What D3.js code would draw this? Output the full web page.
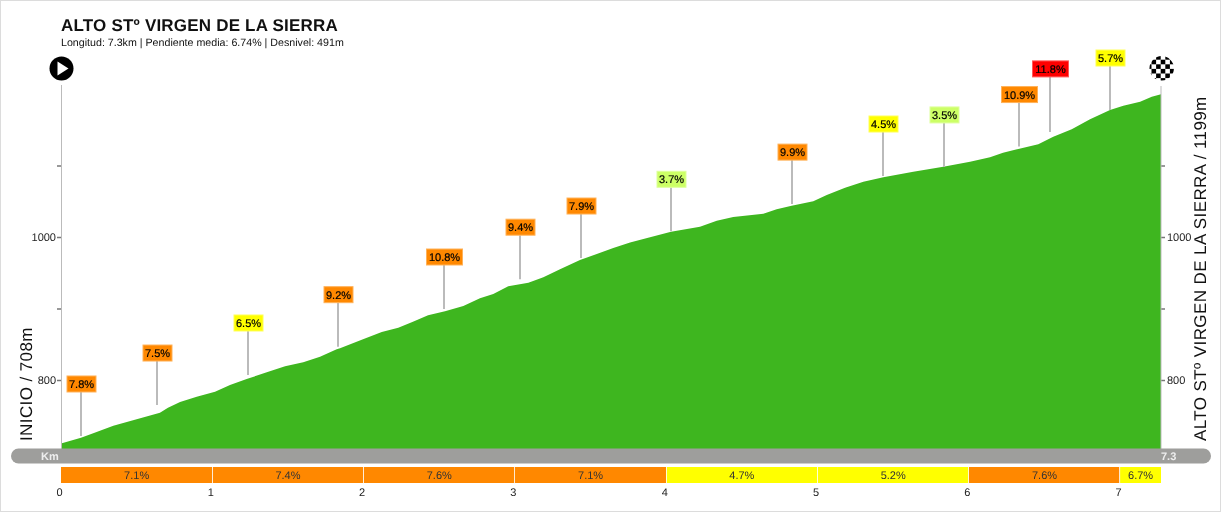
<!DOCTYPE html>
<html><head><meta charset="utf-8">
<script src="https://cdnjs.cloudflare.com/ajax/libs/d3/7.8.5/d3.min.js"></script>
<style>
html,body{margin:0;padding:0;background:#fff;overflow:hidden}
svg{display:block;font-family:"Liberation Sans",Arial,sans-serif;will-change:transform}
text{text-rendering:geometricPrecision}
</style></head><body><svg id="c" width="1222" height="512"></svg>
<script>
const title="ALTO STº VIRGEN DE LA SIERRA";
const subtitle="Longitud: 7.3km | Pendiente media: 6.74% | Desnivel: 491m";
const startLabel="INICIO / 708m";
const endLabel="ALTO STº VIRGEN DE LA SIERRA / 1199m";
const profileKm=[0,.132,.213,.346,.5,.654,.707,.787,.897,1.018,1.117,1.227,1.36,1.481,1.601,1.712,1.822,1.844,1.996,2.12,2.229,2.326,2.426,2.538,2.659,2.769,2.857,2.956,3.089,3.188,3.298,3.43,3.541,3.65,3.761,3.893,4.032,4.223,4.334,4.443,4.642,4.73,4.829,4.972,5.061,5.182,5.303,5.435,5.633,5.831,6.008,6.14,6.226,6.327,6.459,6.558,6.68,6.801,6.933,7.021,7.132,7.209,7.27];
const profileElev=[711.2,719.3,725.5,736.1,745,754.3,761.3,769.2,776.6,783.6,793,801.4,810.8,819.2,824.8,832.6,842.9,844.3,856.9,867.1,873.1,881.5,890.5,896.1,903.5,914.3,920.3,931,936.1,943.6,954.8,967.8,976.2,984.6,992.3,999.6,1007.4,1014.4,1022.8,1028,1032.6,1038.7,1043.8,1049.9,1058.7,1069,1077.3,1083.5,1091.3,1098.3,1105.3,1111.5,1117.9,1123.1,1129.7,1140.3,1150.6,1164.6,1177.6,1183.6,1189.2,1196.2,1199.6];
const markerKm=[.132,.636,1.234,1.831,2.531,3.034,3.435,4.032,4.829,5.433,5.834,6.332,6.537,6.933];
const markerElev=[721.7,765,807,846.6,899.3,941,970.6,1008,1046,1085.3,1098,1126.5,1147,1177.6];
const markerPct=["7.8%","7.5%","6.5%","9.2%","10.8%","9.4%","7.9%","3.7%","9.9%","4.5%","3.5%","10.9%","11.8%","5.7%"];
const kmStart=[0,1,2,3,4,5,6,7];
const kmEnd=[1,2,3,4,5,6,7,7.27];
const kmPct=[7.1,7.4,7.6,7.1,4.7,5.2,7.6,6.7];
const elevTicks=[800,900,1000,1100];
const elevLabels=[800,1000];
const kmTicks=[0,1,2,3,4,5,6,7];
const totalKm=7.27, kmEndLabel="7.3";

const color=p=>p<4?"#ccff66":p<7?"#ffff00":p<11?"#ff8800":"#ff0000";
const svg=d3.select("#c");
const x=d3.scaleLinear().domain([0,totalKm]).range([61,1161]);
const y=d3.scaleLinear().domain([800,1000]).range([380,237]);
const base=449;

svg.append("rect").attr("x",.5).attr("y",.5).attr("width",1220).attr("height",511).attr("fill","#fff").attr("stroke","#dcdcdc");

svg.append("text").attr("x",61).attr("y",31).attr("font-size",17).attr("letter-spacing",.2).attr("font-weight","bold").attr("fill","#111").text(title);
svg.append("text").attr("x",61).attr("y",46).attr("font-size",10.67).attr("fill","#111").text(subtitle);

// area
const area=d3.area().x(d=>x(d[0])).y0(base).y1(d=>y(d[1]));
svg.append("path").datum(d3.zip(profileKm,profileElev)).attr("d",area).attr("fill","#3eb61f");

// axes
function styleAxis(g){
  g.select(".domain").remove();
  g.selectAll(".tick line").attr("stroke","#777").attr("stroke-width",1.5);
  g.selectAll(".tick text").attr("font-size",11).attr("font-family","Liberation Sans").style("fill","#222");
}
const fmt=d=>elevLabels.includes(d)?d:"";
svg.append("g").attr("transform","translate(61,0)").call(d3.axisLeft(y).tickValues(elevTicks).tickFormat(fmt).tickSize(4).tickPadding(1)).call(styleAxis);
svg.append("g").attr("transform","translate(1161,0)").call(d3.axisRight(y).tickValues(elevTicks).tickFormat(fmt).tickSize(4).tickPadding(2)).call(styleAxis);
svg.append("line").attr("x1",61.5).attr("x2",61.5).attr("y1",85).attr("y2",449).attr("stroke","#bbb");
svg.append("line").attr("x1",1161).attr("x2",1161).attr("y1",86).attr("y2",449).attr("stroke","#bbb");

// markers: a flag whose box would collide with the previous one is raised
const boxW=t=>t.length>4?36:29;
const m=svg.append("g").selectAll("g").data(markerPct).join("g");
m.each(function(t,i){
  const px=Math.round(x(markerKm[i]));
  const prev=i?Math.round(x(markerKm[i-1]))+boxW(markerPct[i-1])/2:-1e9;
  const g=d3.select(this),bot=y(markerElev[i]),
        top=bot-(px-boxW(t)/2<prev?55:44),
        w=boxW(t),p=parseFloat(t),c=color(p);
  g.append("line").attr("x1",px).attr("x2",px).attr("y1",top).attr("y2",bot).attr("stroke","#bbb").attr("stroke-width",2);
  g.append("rect").attr("x",px-w/2+.5).attr("y",top-16).attr("width",w).attr("height",16).attr("fill",c)
    .attr("stroke",d3.interpolateRgb(c,"#fff")(.35)).attr("stroke-width",1);
  g.append("text").attr("x",px+.5).attr("y",top-4).attr("text-anchor","middle").attr("font-size",11)
    .attr("fill","#000").attr("stroke","#000").attr("stroke-width",.2).text(t);
});

// km bar
svg.append("rect").attr("x",11).attr("y",448.5).attr("width",1200).attr("height",15).attr("rx",7.5).attr("fill","#9e9e9c");
svg.append("text").attr("x",41).attr("y",460).attr("font-size",11).attr("font-weight","bold").attr("fill","#eee").text("Km");
svg.append("text").attr("x",1161).attr("y",460).attr("font-size",11).attr("font-weight","bold").attr("fill","#eee").text(kmEndLabel);

// gradient band
const seg=svg.append("g").selectAll("g").data(kmPct).join("g");
seg.append("rect").attr("x",(d,i)=>x(kmStart[i])).attr("y",467).attr("height",16)
  .attr("width",(d,i)=>x(kmEnd[i])-x(kmStart[i])).attr("fill",d=>color(d));
kmStart.slice(1).forEach(k=>{
  const s=Math.round(x(k)-.7)+.5;
  svg.append("line").attr("x1",s).attr("x2",s).attr("y1",467).attr("y2",483).attr("stroke","#fff").attr("stroke-opacity",.8);
});
seg.append("text").attr("x",(d,i)=>(x(kmStart[i])+x(kmEnd[i]))/2).attr("y",479).attr("text-anchor","middle")
  .attr("font-size",11).attr("fill","#333").text(d=>d.toFixed(1)+"%");

// km axis
const kmAxis=svg.append("g").attr("transform","translate(-2,485)").call(d3.axisBottom(x).tickValues(kmTicks).tickFormat(d3.format("d")).tickSize(0).tickPadding(3));
kmAxis.select(".domain").remove();
kmAxis.selectAll("text").attr("font-size",11).attr("font-family","Liberation Sans").attr("fill","#222");

// rotated labels
svg.append("text").attr("transform","translate(31.5,441) rotate(-90)").attr("font-size",17).attr("letter-spacing",.4).attr("fill","#111").text(startLabel);
svg.append("text").attr("transform","translate(1206,441) rotate(-90)").attr("font-size",17).attr("letter-spacing",.4).attr("fill","#111").text(endLabel);

// icons
const play=svg.append("g").attr("transform","translate(61.5,68.5)");
play.append("circle").attr("r",12).attr("fill","#000");
play.append("path").attr("d","M-4,-7 L7,0 L-4,7 Z").attr("fill","#fff");
const defs=svg.append("defs");
defs.append("clipPath").attr("id","fc").append("circle").attr("r",12.2);
const fin=svg.append("g").attr("transform","translate(1161.7,68.3)").attr("clip-path","url(#fc)");
fin.append("circle").attr("r",12.2).attr("fill","#fff");
d3.range(-3,3).forEach(i=>d3.range(-3,3).forEach(j=>{
  if((i+j+60)%2===0) fin.append("rect").attr("x",i*4.6-1).attr("y",j*4.6+.6).attr("width",4.6).attr("height",4.6).attr("fill","#000");
}));
</script></body></html>
